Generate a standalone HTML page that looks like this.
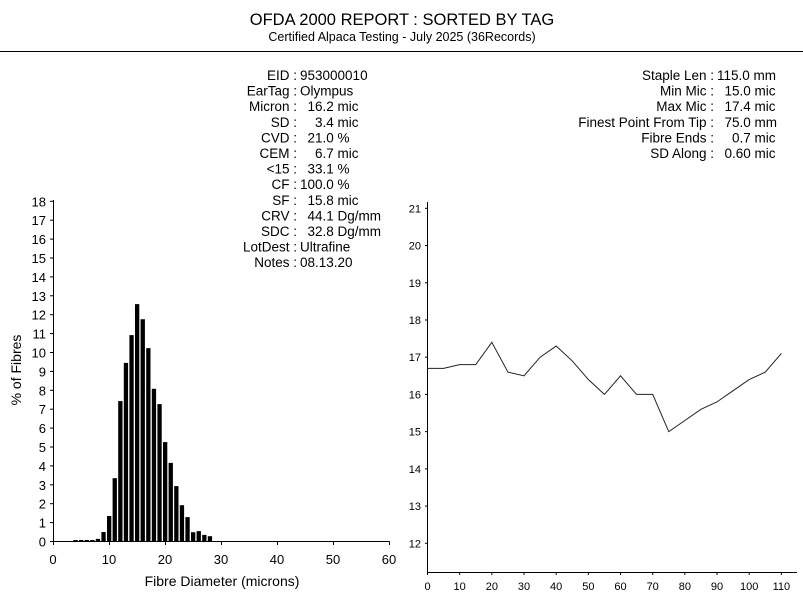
<!DOCTYPE html>
<html><head><meta charset="utf-8"><style>
body{margin:0;background:#fff;}
svg{display:block;font-family:"Liberation Sans",sans-serif;}
text{white-space:pre;}
</style></head><body>
<svg id="c" width="803" height="612" xmlns="http://www.w3.org/2000/svg">
<text x="402" y="25" font-size="16.5" text-anchor="middle">OFDA 2000 REPORT : SORTED BY TAG</text>
<text x="402" y="41" font-size="12.5" text-anchor="middle">Certified Alpaca Testing - July 2025 (36Records)</text>
<line x1="0" y1="51.5" x2="803" y2="51.5" stroke="#000" stroke-width="1"/>
<g id="info" font-size="13.5"></g>
<g id="hist"></g>
<g id="line"></g>
</svg>
<script>
const NS="http://www.w3.org/2000/svg";
function mk(p,t,a,txt){const e=document.createElementNS(NS,t);for(const k in a)e.setAttribute(k,a[k]);if(txt!==undefined)e.textContent=txt;p.appendChild(e);return e;}
// info
const leftLabels=["EID :","EarTag :","Micron :","SD :","CVD :","CEM :","<15 :","CF :","SF :","CRV :","SDC :","LotDest :","Notes :"];
const leftValues=["953000010","Olympus","  16.2 mic","    3.4 mic","  21.0 %","    6.7 mic","  33.1 %","100.0 %","  15.8 mic","  44.1 Dg/mm","  32.8 Dg/mm","Ultrafine","08.13.20"];
const rightLabels=["Staple Len :","Min Mic :","Max Mic :","Finest Point From Tip :","Fibre Ends :","SD Along :"];
const rightValues=["115.0 mm","  15.0 mic","  17.4 mic","  75.0 mm","    0.7 mic","  0.60 mic"];
const info=document.getElementById('info');
leftLabels.forEach((l,i)=>{const y=80+i*15.6;
 let t=mk(info,'text',{x:297,y:y,'text-anchor':'end'},l);
 
 
 t=mk(info,'text',{x:300,y:y},leftValues[i]);
 
 });
rightLabels.forEach((l,i)=>{const y=80+i*15.6;
 let t=mk(info,'text',{x:714,y:y,'text-anchor':'end'},l);
 
 
 t=mk(info,'text',{x:717,y:y},rightValues[i]);
 
 });

// histogram
const histMicrons=[4,5,6,7,8,9,10,11,12,13,14,15,16,17,18,19,20,21,22,23,24,25,26,27,28];
const histPercent=[0.08,0.08,0.08,0.08,0.14,0.5,1.35,3.35,7.43,9.45,10.92,12.56,11.76,10.23,8.08,7.27,5.26,4.16,2.93,1.92,1.29,0.49,0.55,0.35,0.28];
const histXTicks=[0,10,20,30,40,50,60];
const histYTicks=[0,1,2,3,4,5,6,7,8,9,10,11,12,13,14,15,16,17,18];
const hx=v=>53+v*5.6, hy=v=>541.5-v*18.9;
const H=document.getElementById('hist');
let e=mk(H,'path',{d:`M53.5,200V541.5H389.5`,fill:'none',stroke:'#000','stroke-width':1});

histYTicks.forEach(v=>{let t=mk(H,'text',{x:46,y:hy(v)+5,'font-size':13,'text-anchor':'end'},String(v));
 
 mk(H,'line',{x1:50,x2:53.5,y1:hy(v),y2:hy(v),stroke:'#000'});});
histXTicks.forEach(v=>{let t=mk(H,'text',{x:hx(v),y:564,'font-size':13,'text-anchor':'middle'},String(v));
 
 mk(H,'line',{x1:hx(v)+0.5,x2:hx(v)+0.5,y1:541.5,y2:545,stroke:'#000'});});
histMicrons.forEach((m,i)=>{const r=mk(H,'rect',{x:hx(m)-2,y:hy(histPercent[i]),width:4.3,height:541.5-hy(histPercent[i]),fill:'#000'});
 });
e=mk(H,'text',{x:222,y:586,'font-size':14,'text-anchor':'middle'},'Fibre Diameter (microns)');

e=mk(H,'text',{x:0,y:0,'font-size':14,'text-anchor':'middle',transform:'translate(21,370) rotate(-90)'},'% of Fibres');


// line chart
const lineX=[0,5,10,15,20,25,30,35,40,45,50,55,60,65,70,75,80,85,90,95,100,105,110];
const lineY=[16.7,16.7,16.8,16.8,17.4,16.6,16.5,17.0,17.3,16.9,16.4,16.0,16.5,16.0,16.0,15.0,15.3,15.6,15.8,16.1,16.4,16.6,17.1];
const lineXTicks=[0,10,20,30,40,50,60,70,80,90,100,110];
const lineYTicks=[12,13,14,15,16,17,18,19,20,21];
const lx=v=>427.5+v*3.217, ly=v=>543.3-(v-12)*37.22;
const L=document.getElementById('line');
e=mk(L,'path',{d:`M427.5,202V572.5H797`,fill:'none',stroke:'#000','stroke-width':1});

lineYTicks.forEach(v=>{let t=mk(L,'text',{x:421,y:ly(v)+4,'font-size':11,'text-anchor':'end'},String(v));
 
 mk(L,'line',{x1:425,x2:427.5,y1:ly(v),y2:ly(v),stroke:'#000'});});
lineXTicks.forEach(v=>{let t=mk(L,'text',{x:lx(v),y:590,'font-size':11,'text-anchor':'middle'},String(v));
 
 mk(L,'line',{x1:lx(v),x2:lx(v),y1:572.5,y2:575,stroke:'#000'});});
e=mk(L,'polyline',{points:lineX.map((x,i)=>lx(x)+','+ly(lineY[i])).join(' '),fill:'none',stroke:'#222','stroke-width':1});

</script>
</body></html>
